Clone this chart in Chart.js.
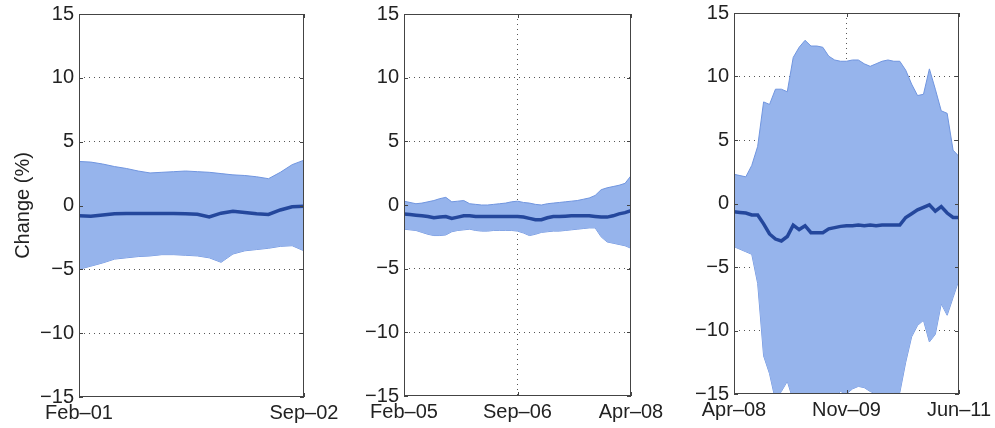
<!DOCTYPE html>
<html>
<head>
<meta charset="utf-8">
<script src="https://cdn.jsdelivr.net/npm/chart.js@4.4.1/dist/chart.umd.min.js"></script>
<style>
  html, body { margin: 0; padding: 0; background: #fff; }
  #wrap { position: relative; width: 995px; height: 428px; overflow: hidden; }
  canvas { position: absolute; top: 0; }
</style>
</head>
<body>
<div id="wrap">
  <canvas id="c1" width="345" height="428" style="left:0px"></canvas>
  <canvas id="c2" width="325" height="428" style="left:345px"></canvas>
  <canvas id="c3" width="325" height="428" style="left:670px"></canvas>
</div>
<script>
// Panel 1: Feb-01 .. Sep-02 (monthly)
const upper1 = [3.45, 3.4, 3.25, 3.05, 2.9, 2.7, 2.55, 2.6, 2.65, 2.7, 2.65, 2.6, 2.5, 2.4, 2.35, 2.25, 2.1, 2.6, 3.2, 3.55];
const lower1 = [-5.0, -4.75, -4.5, -4.2, -4.1, -4.0, -3.95, -3.85, -3.85, -3.9, -3.95, -4.1, -4.45, -3.8, -3.55, -3.45, -3.35, -3.2, -3.15, -3.55];
const center1 = [-0.8, -0.85, -0.75, -0.65, -0.62, -0.62, -0.62, -0.62, -0.62, -0.65, -0.68, -0.9, -0.6, -0.45, -0.55, -0.65, -0.7, -0.35, -0.1, -0.05];
const tickMonths1 = [0, 19];
const tickLabels1 = ['Feb\u201301', 'Sep\u201302'];

// Panel 2: Feb-05 .. Apr-08
const upper2 = [0.3, 0.2, 0.1, 0.15, 0.25, 0.35, 0.5, 0.6, 0.25, 0.3, 0.35, 0.1, 0.05, 0.0, 0.0, 0.05, 0.1, 0.15, 0.25, 0.3,
  0.2, 0.15, 0.05, 0.0, 0.1, 0.15, 0.2, 0.25, 0.3, 0.35, 0.45, 0.55, 0.75, 1.2, 1.35, 1.45, 1.55, 1.7, 2.3];
const lower2 = [-1.9, -1.95, -2.0, -2.15, -2.3, -2.4, -2.4, -2.35, -2.1, -2.0, -1.95, -1.9, -2.0, -2.05, -2.05, -2.0, -2.0, -2.0, -2.0, -2.05,
  -2.2, -2.4, -2.3, -2.15, -2.1, -2.05, -2.05, -2.0, -1.95, -1.9, -1.85, -1.8, -1.8, -2.5, -2.9, -3.0, -3.1, -3.2, -3.4];
const center2 = [-0.7, -0.75, -0.8, -0.85, -0.9, -1.0, -0.95, -0.9, -1.05, -0.95, -0.85, -0.85, -0.9, -0.9, -0.9, -0.9, -0.9, -0.9, -0.9, -0.9,
  -0.95, -1.05, -1.15, -1.15, -1.0, -0.9, -0.9, -0.88, -0.85, -0.85, -0.85, -0.85, -0.9, -0.95, -0.95, -0.85, -0.7, -0.6, -0.45];
const tickMonths2 = [0, 19, 38];
const tickLabels2 = ['Feb\u201305', 'Sep\u201306', 'Apr\u201308'];

// Panel 3: Apr-08 .. Jun-11
const upper3 = [2.3, 2.2, 2.1, 3.0, 4.5, 8.0, 7.8, 9.0, 9.0, 8.8, 11.5, 12.3, 12.85, 12.4, 12.4, 12.3, 11.6, 11.3, 11.2, 11.2,
  11.3, 11.3, 11.0, 10.8, 11.0, 11.2, 11.3, 11.2, 11.2, 10.5, 9.4, 8.5, 8.6, 10.6, 9.0, 7.3, 7.1, 4.2, 3.7];
const lower3 = [-3.4, -3.6, -3.8, -4.0, -6.3, -12.0, -13.4, -15.5, -14.8, -14.0, -15.5, -16, -16, -16, -16, -15.5, -16, -15.2, -14.8, -15,
  -14.6, -14.4, -14.5, -14.8, -15, -15, -15, -14.9, -14.9, -12.5, -10.5, -9.6, -9.2, -10.9, -10.3, -7.9, -8.8, -7.4, -6.0];
const center3 = [-0.65, -0.7, -0.75, -0.9, -0.9, -1.6, -2.4, -2.8, -2.95, -2.6, -1.7, -2.05, -1.75, -2.3, -2.3, -2.3, -2.0, -1.9, -1.8, -1.75,
  -1.75, -1.7, -1.75, -1.7, -1.75, -1.7, -1.7, -1.7, -1.7, -1.1, -0.8, -0.5, -0.3, -0.1, -0.6, -0.25, -0.75, -1.1, -1.1];
const tickMonths3 = [0, 19, 38];
const tickLabels3 = ['Apr\u201308', 'Nov\u201309', 'Jun\u201311'];

const yTicks = [-15, -10, -5, 0, 5, 10, 15];

const FONT = { family: '"Liberation Sans", Arial, Helvetica, sans-serif', size: 20 };
const TEXT = '#222';
const BAND = '#96b4ec';
const EDGE = '#7095df';
const LINE = '#24479c';

const frame = {
  id: 'frame',
  afterDraw(chart) {
    const { ctx, chartArea: a, scales } = chart;
    ctx.save();
    ctx.strokeStyle = '#444';
    ctx.lineWidth = 1;
    ctx.strokeRect(a.left + 0.5, a.top + 0.5, a.right - a.left - 1, a.bottom - a.top - 1);
    ctx.beginPath();
    scales.y.ticks.forEach((t) => {
      const y = Math.round(scales.y.getPixelForValue(t.value)) + 0.5;
      ctx.moveTo(a.left, y); ctx.lineTo(a.left + 4, y);
      ctx.moveTo(a.right, y); ctx.lineTo(a.right - 4, y);
    });
    scales.x.ticks.forEach((t) => {
      const x = Math.round(scales.x.getPixelForValue(t.value)) + 0.5;
      ctx.moveTo(x, a.bottom); ctx.lineTo(x, a.bottom - 4);
      ctx.moveTo(x, a.top); ctx.lineTo(x, a.top + 4);
    });
    ctx.stroke();
    ctx.restore();
  },
};

function minus(v) {
  return v < 0 ? '\u2212' + Math.abs(v) : String(v);
}

function makePanel(id, opts) {
  const { upper, lower, center, tickMonths, tickLabels, yWidth, xHeight, top, right, title, midGrid } = opts;
  const months = upper.map((_, i) => i);
  const last = months[months.length - 1];

  return new Chart(document.getElementById(id).getContext('2d'), {
    type: 'line',
    data: {
      labels: months,
      datasets: [
        { data: center, borderColor: LINE, borderWidth: 3.5, pointRadius: 0, fill: false },
        { data: upper, borderColor: EDGE, borderWidth: 1, pointRadius: 0, backgroundColor: BAND, fill: '+1' },
        { data: lower, borderColor: EDGE, borderWidth: 1, pointRadius: 0, fill: false },
      ],
    },
    options: {
      responsive: false,
      animation: false,
      layout: { padding: { top, right, bottom: 0, left: 0 } },
      plugins: { legend: { display: false }, tooltip: { enabled: false } },
      scales: {
        x: {
          type: 'linear',
          min: 0,
          max: last,
          afterBuildTicks: (scale) => {
            scale.ticks = tickMonths.map((value) => ({ value }));
          },
          afterFit: (scale) => {
            scale.height = xHeight;
            scale.paddingLeft = 0;
            scale.paddingRight = 0;
          },
          ticks: {
            autoSkip: false,
            maxRotation: 0,
            padding: 4,
            color: TEXT,
            font: FONT,
            callback: (value) => tickLabels[tickMonths.indexOf(value)],
          },
          grid: {
            drawTicks: false,
            color: (c) => (midGrid && c.tick && c.tick.value !== 0 && c.tick.value !== last ? '#555' : 'rgba(0,0,0,0)'),
            lineWidth: 1,
          },
          border: { display: false, dash: [1, 4] },
        },
        y: {
          min: -15,
          max: 15,
          afterBuildTicks: (scale) => {
            scale.ticks = yTicks.map((value) => ({ value }));
          },
          afterFit: (scale) => {
            scale.width = yWidth;
            scale.paddingTop = 0;
            scale.paddingBottom = 0;
          },
          ticks: {
            padding: 5,
            color: TEXT,
            font: FONT,
            callback: (value) => minus(value),
          },
          grid: {
            drawTicks: false,
            color: (c) => (c.tick && Math.abs(c.tick.value) !== 15 ? '#555' : 'rgba(0,0,0,0)'),
            lineWidth: 1,
          },
          border: { display: false, dash: [1, 4] },
          title: {
            display: !!title,
            text: title || '',
            color: TEXT,
            font: { family: FONT.family, size: 20 },
            padding: { top: 11, bottom: 0 },
          },
        },
      },
    },
    plugins: [frame],
  });
}

makePanel('c1', {
  upper: upper1, lower: lower1, center: center1, tickMonths: tickMonths1, tickLabels: tickLabels1,
  yWidth: 79, xHeight: 31, top: 14, right: 41, title: 'Change (%)', midGrid: false,
});
makePanel('c2', {
  upper: upper2, lower: lower2, center: center2, tickMonths: tickMonths2, tickLabels: tickLabels2,
  yWidth: 59, xHeight: 32, top: 14, right: 39, title: null, midGrid: true,
});
makePanel('c3', {
  upper: upper3, lower: lower3, center: center3, tickMonths: tickMonths3, tickLabels: tickLabels3,
  yWidth: 64, xHeight: 34, top: 13, right: 36, title: null, midGrid: true,
});
</script>
</body>
</html>
